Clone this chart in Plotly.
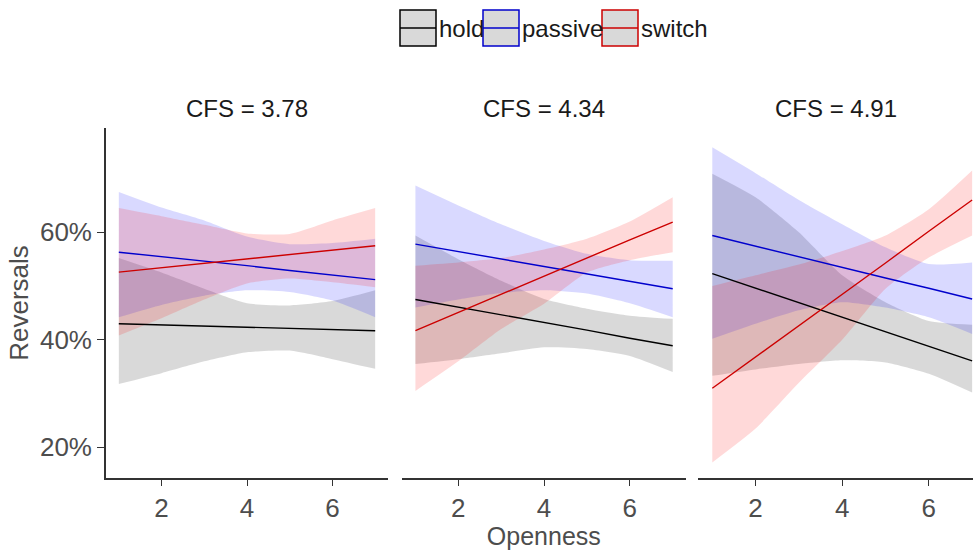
import plotly.graph_objects as go

# ---------------- data ----------------
openness = [1, 2, 3, 4, 5, 6, 7]
panels = ["CFS = 3.78", "CFS = 4.34", "CFS = 4.91"]
groups = ["hold", "passive", "switch"]

# panel 1 : CFS = 3.78
hold_fit_1 = [0.430, 0.428, 0.426, 0.424, 0.422, 0.420, 0.417]
hold_lo_1 = [0.318, 0.338, 0.360, 0.377, 0.380, 0.364, 0.346]
hold_hi_1 = [0.552, 0.525, 0.495, 0.468, 0.464, 0.472, 0.492]
passive_fit_1 = [0.563, 0.555, 0.546, 0.538, 0.529, 0.520, 0.512]
passive_lo_1 = [0.442, 0.465, 0.482, 0.492, 0.489, 0.473, 0.442]
passive_hi_1 = [0.675, 0.646, 0.622, 0.592, 0.578, 0.580, 0.588]
switch_fit_1 = [0.526, 0.534, 0.542, 0.550, 0.558, 0.567, 0.575]
switch_lo_1 = [0.408, 0.440, 0.475, 0.505, 0.514, 0.507, 0.498]
switch_hi_1 = [0.645, 0.630, 0.614, 0.598, 0.597, 0.622, 0.645]

# panel 2 : CFS = 4.34
hold_fit_2 = [0.475, 0.461, 0.446, 0.432, 0.418, 0.403, 0.389]
hold_lo_2 = [0.355, 0.364, 0.375, 0.386, 0.383, 0.370, 0.340]
hold_hi_2 = [0.594, 0.550, 0.510, 0.476, 0.458, 0.445, 0.439]
passive_fit_2 = [0.578, 0.564, 0.550, 0.536, 0.523, 0.509, 0.495]
passive_lo_2 = [0.460, 0.475, 0.487, 0.492, 0.486, 0.468, 0.442]
passive_hi_2 = [0.687, 0.650, 0.615, 0.584, 0.560, 0.548, 0.547]
switch_fit_2 = [0.417, 0.451, 0.485, 0.518, 0.552, 0.586, 0.619]
switch_lo_2 = [0.305, 0.360, 0.420, 0.467, 0.525, 0.548, 0.563]
switch_hi_2 = [0.538, 0.544, 0.552, 0.568, 0.588, 0.620, 0.665]

# panel 3 : CFS = 4.91
hold_fit_3 = [0.523, 0.496, 0.469, 0.442, 0.415, 0.388, 0.361]
hold_lo_3 = [0.333, 0.345, 0.355, 0.362, 0.358, 0.337, 0.302]
hold_hi_3 = [0.709, 0.665, 0.600, 0.520, 0.470, 0.435, 0.428]
passive_fit_3 = [0.594, 0.574, 0.555, 0.535, 0.515, 0.496, 0.476]
passive_lo_3 = [0.402, 0.430, 0.455, 0.470, 0.460, 0.442, 0.411]
passive_hi_3 = [0.758, 0.710, 0.660, 0.615, 0.572, 0.541, 0.544]
switch_fit_3 = [0.310, 0.368, 0.427, 0.485, 0.543, 0.602, 0.660]
switch_lo_3 = [0.172, 0.235, 0.320, 0.400, 0.495, 0.553, 0.594]
switch_hi_3 = [0.500, 0.520, 0.540, 0.565, 0.594, 0.643, 0.715]

x_ticks = [2, 4, 6]
y_ticks = [0.2, 0.4, 0.6]
y_ticklabels = ["20%", "40%", "60%"]

# ---------------- style ----------------
line_col = {"hold": "#000000", "passive": "#0000cc", "switch": "#cc0000"}
fill_col = {"hold": "rgba(0,0,0,0.15)", "passive": "rgba(0,0,255,0.15)",
            "switch": "rgba(255,0,0,0.15)"}
FONT = "Liberation Sans, Arial, sans-serif"

W, H = 973, 550
ML, MR, MT, MB = 106, 0, 128, 72
PW, PH = W - ML - MR, H - MT - MB

def px(xp):
    return (xp - ML) / PW

def py(yp):
    return (H - MB - yp) / PH

domains = [[px(106), px(388)], [px(401.7), px(686)], [px(698), 1.0]]
xranges = [[0.7, 7.3], [0.68, 7.31], [0.67, 7.02]]

data = {
    1: {"hold": (hold_fit_1, hold_lo_1, hold_hi_1),
        "passive": (passive_fit_1, passive_lo_1, passive_hi_1),
        "switch": (switch_fit_1, switch_lo_1, switch_hi_1)},
    2: {"hold": (hold_fit_2, hold_lo_2, hold_hi_2),
        "passive": (passive_fit_2, passive_lo_2, passive_hi_2),
        "switch": (switch_fit_2, switch_lo_2, switch_hi_2)},
    3: {"hold": (hold_fit_3, hold_lo_3, hold_hi_3),
        "passive": (passive_fit_3, passive_lo_3, passive_hi_3),
        "switch": (switch_fit_3, switch_lo_3, switch_hi_3)},
}

fig = go.Figure()
for p in (1, 2, 3):
    xa = "x" if p == 1 else f"x{p}"
    ya = "y" if p == 1 else f"y{p}"
    for g in groups:
        fit, lo, hi = data[p][g]
        fig.add_trace(go.Scatter(
            x=openness, y=hi, mode="lines",
            line=dict(width=0, shape="spline", smoothing=0.6),
            hoverinfo="skip", showlegend=False, xaxis=xa, yaxis=ya))
        fig.add_trace(go.Scatter(
            x=openness, y=lo, mode="lines", fill="tonexty",
            fillcolor=fill_col[g],
            line=dict(width=0, shape="spline", smoothing=0.6),
            hoverinfo="skip", showlegend=False, xaxis=xa, yaxis=ya))
    for g in groups:
        fit, lo, hi = data[p][g]
        fig.add_trace(go.Scatter(
            x=openness, y=fit, mode="lines",
            line=dict(color=line_col[g], width=1.4),
            name=g, showlegend=False, xaxis=xa, yaxis=ya))

layout = dict(
    width=W, height=H,
    margin=dict(l=ML, r=MR, t=MT, b=MB, pad=0),
    paper_bgcolor="white", plot_bgcolor="white",
    font=dict(family=FONT, size=24, color="#4d4d4d"),
    showlegend=False,
)
yr = [0.143, 0.794]
for i, p in enumerate((1, 2, 3)):
    sx = "xaxis" if p == 1 else f"xaxis{p}"
    sy = "yaxis" if p == 1 else f"yaxis{p}"
    layout[sx] = dict(
        domain=domains[i], range=xranges[i], anchor="y" if p == 1 else f"y{p}",
        tickvals=x_ticks, ticks="outside", ticklen=6, tickwidth=1.3,
        tickcolor="#333333", showline=True, linecolor="#333333", linewidth=1.6,
        showgrid=False, zeroline=False,
        tickfont=dict(size=26, color="#4d4d4d", family=FONT),
    )
    layout[sy] = dict(
        domain=[0, 1], range=yr, anchor="x" if p == 1 else f"x{p}",
        showgrid=False, zeroline=False,
    )
    if p == 1:
        layout[sy].update(
            tickvals=y_ticks, ticktext=y_ticklabels, ticks="outside", ticklen=7,
            tickwidth=1.3, tickcolor="#333333", showline=True,
            linecolor="#333333", linewidth=1.6,
            tickfont=dict(size=26, color="#4d4d4d", family=FONT),
            title=dict(text="Reversals", standoff=4,
                       font=dict(size=26, color="#4d4d4d", family=FONT)),
        )
    else:
        layout[sy].update(showticklabels=False, showline=False, ticks="")
layout["xaxis2"]["title"] = dict(text="Openness", standoff=4,
                                 font=dict(size=25, color="#4d4d4d", family=FONT))
fig.update_layout(**layout)

# strip titles
for i, t in enumerate(panels):
    fig.add_annotation(text=t, xref="paper", yref="paper",
                       x=(domains[i][0] + domains[i][1]) / 2, y=py(108),
                       xanchor="center", yanchor="middle", showarrow=False,
                       font=dict(size=24, color="#1a1a1a", family=FONT))

# manual legend (keys with grey fill, coloured frame and line)
keys = [(400, 437, "hold"), (483, 520, "passive"), (602, 639, "switch")]
for x0, tx, g in keys:
    fig.add_shape(type="rect", xref="paper", yref="paper",
                  x0=px(x0), x1=px(x0 + 36), y0=py(46), y1=py(10),
                  fillcolor="#d9d9d9", line=dict(color=line_col[g], width=1.5))
    fig.add_shape(type="line", xref="paper", yref="paper",
                  x0=px(x0), x1=px(x0 + 36), y0=py(28), y1=py(28),
                  line=dict(color=line_col[g], width=1.3))
    fig.add_annotation(text=g, xref="paper", yref="paper", x=px(tx), y=py(29),
                       xanchor="left", yanchor="middle", showarrow=False,
                       font=dict(size=24, color="#1a1a1a", family=FONT))

fig.write_html("out.html")
